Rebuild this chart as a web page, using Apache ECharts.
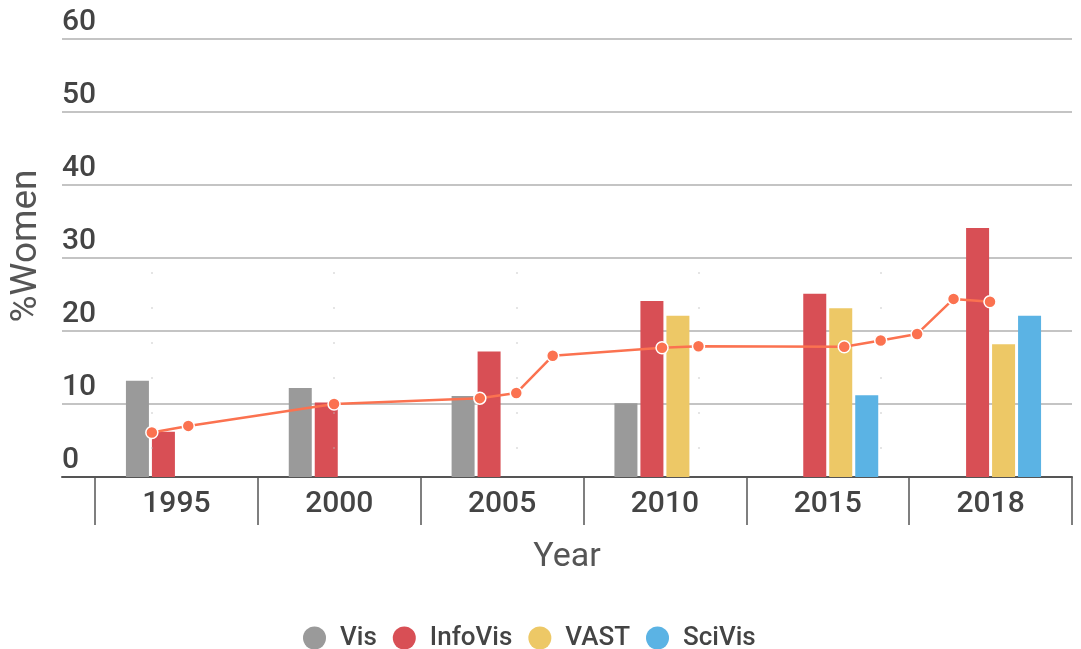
<!DOCTYPE html>
<html>
<head>
<meta charset="utf-8">
<script src="https://cdn.jsdelivr.net/npm/echarts@6/dist/echarts.min.js"></script>
<style>
  html, body { margin: 0; padding: 0; background: #fff; }
  #chart { width: 1081px; height: 649px; }
</style>
</head>
<body>
<div id="chart"></div>
<script>
// Share of women among authors, per conference track (bars) and overall (line)
const years = ['1995', '2000', '2005', '2010', '2015', '2018'];
const vis = [13.2, 12.2, 11.1, 10.1, null, null];
const infoVis = [6.2, 10.2, 17.2, 24.1, 25.1, 34.1];
const vast = [null, null, null, 22.1, 23.1, 18.2];
const sciVis = [null, null, null, null, 11.2, 22.1];

const overallYears = [1995, 1996, 2000, 2004, 2005, 2006, 2009, 2010, 2014, 2015, 2016, 2017, 2018];
const overallPct = [6.1, 7.0, 10.0, 10.8, 11.5, 16.6, 17.7, 17.9, 17.85, 18.7, 19.6, 24.4, 24.0];

const guideYears = [1995, 2000, 2005, 2010, 2015];

const FONT = 'Roboto';
const TEXT = '#444444';
const colors = { Vis: '#9a9a9a', InfoVis: '#d84f55', VAST: '#edc866', SciVis: '#5bb3e4', overall: '#fb7250' };

const chart = echarts.init(document.getElementById('chart'), null, { renderer: 'canvas' });

const barSeries = (name, data) => ({
  name, type: 'bar', data,
  xAxisIndex: 1, yAxisIndex: 1,
  barWidth: 23, barGap: '13%',
  itemStyle: { color: colors[name] }
});

chart.setOption({
  animation: false,
  textStyle: { fontFamily: FONT },
  grid: [
    { left: 57, right: 9, top: 39, bottom: 172 },
    { left: 95, right: 9, top: 39, bottom: 172 }
  ],
  xAxis: [
    {
      gridIndex: 0, type: 'value', min: 0, max: 1,
      axisLine: { show: true, lineStyle: { color: '#555', width: 2 } },
      axisTick: { show: false }, axisLabel: { show: false }, splitLine: { show: false },
      name: 'Year', nameLocation: 'middle', nameGap: 63,
      nameTextStyle: { fontSize: 34, color: '#555', fontFamily: FONT }
    },
    {
      gridIndex: 1, type: 'category', data: years, boundaryGap: true,
      axisLine: { show: false },
      axisTick: { show: true, length: 48, alignWithLabel: false, lineStyle: { color: '#555', width: 1.5 } },
      axisLabel: { fontSize: 30, fontWeight: 500, color: TEXT, margin: 12, fontFamily: FONT }
    },
    {
      gridIndex: 1, type: 'value', min: 1993.44, max: 2020.25, show: false
    }
  ],
  yAxis: [
    {
      gridIndex: 0, type: 'value', min: 0, max: 60, interval: 10,
      axisLine: { show: false }, axisTick: { show: false },
      splitLine: { show: true, lineStyle: { color: '#c4c4c4', width: 2 } },
      axisLabel: {
        inside: true, margin: 0, verticalAlign: 'bottom',
        fontSize: 30, fontWeight: 500, color: TEXT, fontFamily: FONT, padding: [0, 0, 2, 0]
      },
      name: '%Women', nameLocation: 'middle', nameGap: 17, nameRotate: 90,
      nameTextStyle: { fontSize: 37, color: '#555', fontFamily: FONT, padding: [0, 0, 0, 24] }
    },
    {
      gridIndex: 1, type: 'value', min: 0, max: 60, interval: 10, show: false
    }
  ],
  legend: {
    data: ['Vis', 'InfoVis', 'VAST', 'SciVis'],
    left: 303, top: 625, padding: 0,
    icon: 'circle', itemWidth: 23, itemHeight: 23, itemGap: 16,
    textStyle: { fontSize: 26, fontWeight: 500, color: TEXT, fontFamily: FONT, padding: [0, 0, 0, 9] }
  },
  series: [
    barSeries('Vis', vis),
    barSeries('InfoVis', infoVis),
    barSeries('VAST', vast),
    barSeries('SciVis', sciVis),
    {
      name: 'Overall', type: 'line',
      xAxisIndex: 2, yAxisIndex: 1,
      data: overallYears.map((y, i) => [y, overallPct[i]]),
      symbol: 'circle', symbolSize: 12,
      lineStyle: { color: colors.overall, width: 2.5 },
      itemStyle: { color: colors.overall, borderColor: '#fff', borderWidth: 1.5 },
      z: 5,
      markLine: {
        silent: true, symbol: 'none', label: { show: false },
        lineStyle: { color: '#bbbbbb', width: 1.5, type: [1, 34] },
        data: guideYears.map(y => [{ coord: [y, 28] }, { coord: [y, 0] }])
      }
    }
  ]
});
</script>
</body>
</html>
